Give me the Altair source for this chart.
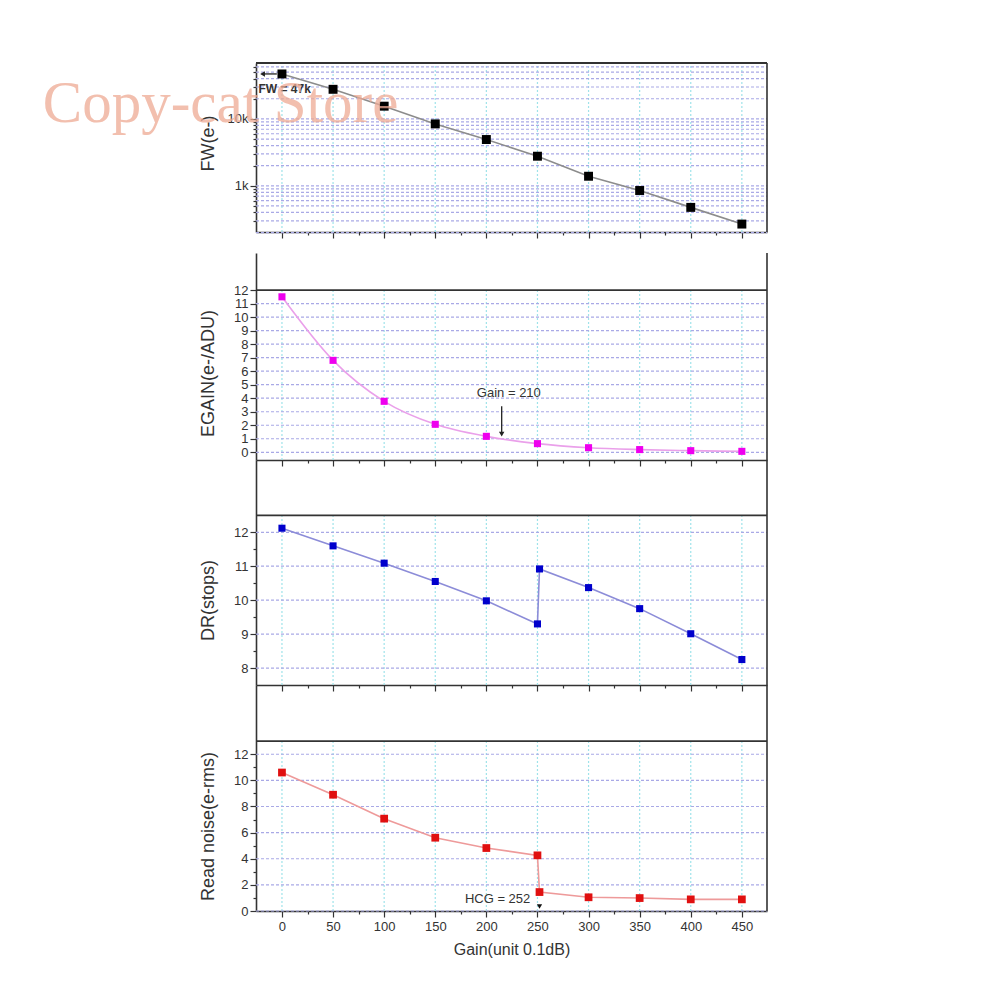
import altair as alt
import pandas as pd

# ---------------- data ----------------
gain = [0, 50, 100, 150, 200, 250, 300, 350, 400, 450]
fw = [47000, 27700, 15500, 8420, 4920, 2770, 1390, 851, 476, 268]
egain = [11.5, 6.8, 3.77, 2.07, 1.18, 0.64, 0.34, 0.20, 0.12, 0.07]
gain_hcg = [0, 50, 100, 150, 200, 250, 252, 300, 350, 400, 450]
dr = [12.12, 11.6, 11.09, 10.55, 9.98, 9.30, 10.92, 10.37, 9.75, 9.01, 8.25]
rn = [10.6, 8.9, 7.07, 5.61, 4.82, 4.26, 1.45, 1.05, 0.99, 0.89, 0.89]

x_major = [0, 50, 100, 150, 200, 250, 300, 350, 400, 450]
x_ticks = [0, 25, 50, 75, 100, 125, 150, 175, 200, 225, 250, 275, 300, 325,
           350, 375, 400, 425, 450]
fw_ticks = [200, 300, 400, 500, 600, 700, 800, 900,
            1000, 2000, 3000, 4000, 5000, 6000, 7000, 8000, 9000,
            10000, 20000, 30000, 40000, 50000, 60000]
eg_ticks = [0, 1, 2, 3, 4, 5, 6, 7, 8, 9, 10, 11, 12]
eg_grid = [0, 1, 2, 3, 4, 5, 6, 7, 8, 9, 10, 11]
dr_ticks = [8, 8.5, 9, 9.5, 10, 10.5, 11, 11.5, 12]
dr_grid = [8, 9, 10, 11, 12]
rn_ticks = [0, 1, 2, 3, 4, 5, 6, 7, 8, 9, 10, 11, 12]
rn_grid = [0, 2, 4, 6, 8, 10, 12]

XMIN, XMAX = -25.4, 474.6
W = 511
FONT = "Liberation Sans"

GRID_H = "#a9a9e6"
GRID_V = "#9fe3ea"


def x_axis(labels):
    return alt.Axis(
        values=x_ticks,
        labels=labels,
        labelExpr="datum.value % 50 === 0 ? datum.label : ''",
        tickSize={"condition": {"test": "datum.value % 50 === 0", "value": 6}, "value": 3},
        title="Gain(unit 0.1dB)" if labels else None,
        grid=False,
        domainColor="#333333", domainWidth=1.6, tickColor="#333333", tickWidth=1.2,
        labelFont=FONT, labelFontSize=13, labelColor="#333333", labelPadding=3,
        titleFont=FONT, titleFontSize=16, titleFontWeight="normal",
        titleColor="#333333", titlePadding=8,
    )


def y_axis(title, ticks, title_y, major_test, label_expr=None):
    kw = dict(
        values=ticks,
        title=title,
        grid=False,
        labelOverlap=False,
        tickSize={"condition": {"test": major_test, "value": 6}, "value": 3},
        domainColor="#333333", domainWidth=1.6, tickColor="#333333", tickWidth=1.2,
        labelFont=FONT, labelFontSize=13, labelColor="#333333", labelPadding=2,
        titleFont=FONT, titleFontSize=18, titleFontWeight="normal",
        titleColor="#333333", titleAngle=-90, titleX=-48, titleY=title_y,
        titleBaseline="middle", titleAlign="center",
    )
    if label_expr:
        kw["labelExpr"] = label_expr
    return alt.Axis(**kw)


def panel(df, ycol, height, ydom, ytype, yax, vgrid_lo, vgrid_hi, hgrid,
          top_line, line_color, pt_color, pt_size, labels, interp="linear",
          extras=None):
    xs = alt.Scale(domain=[XMIN, XMAX], nice=False, zero=False)
    ys = alt.Scale(domain=ydom, nice=False, zero=False, type=ytype)
    xax = x_axis(labels)

    def X(f):
        return alt.X(f, type="quantitative", scale=xs, axis=xax)

    def Y(f):
        return alt.Y(f, type="quantitative", scale=ys, axis=yax)

    vg = pd.DataFrame({"x": x_major, "y0": [vgrid_lo] * len(x_major),
                       "y1": [vgrid_hi] * len(x_major)})
    hg = pd.DataFrame({"y": hgrid, "x0": [XMIN] * len(hgrid), "x1": [XMAX] * len(hgrid)})

    layers = [
        alt.Chart(vg).mark_rule(color=GRID_V, strokeDash=[2, 2], strokeWidth=1.2)
        .encode(x=X("x"), y=Y("y0"), y2="y1"),
        alt.Chart(hg).mark_rule(color=GRID_H, strokeDash=[3, 2], strokeWidth=1.2)
        .encode(x=X("x0"), x2="x1", y=Y("y")),
    ]
    # frame: right edge and the top line
    right = pd.DataFrame({"x": [XMAX], "y0": [ydom[0]], "y1": [ydom[1]]})
    layers.append(alt.Chart(right).mark_rule(color="#333333", strokeWidth=1.6)
                  .encode(x=X("x"), y=Y("y0"), y2="y1"))
    top = pd.DataFrame({"y": [top_line], "x0": [XMIN], "x1": [XMAX]})
    layers.append(alt.Chart(top).mark_rule(color="#333333", strokeWidth=1.8)
                  .encode(x=X("x0"), x2="x1", y=Y("y")))

    base = alt.Chart(df)
    layers.append(base.mark_line(color=line_color, strokeWidth=1.6, interpolate=interp)
                  .encode(x=X("gain"), y=Y(ycol)))
    layers.append(base.mark_point(shape="square", filled=True, opacity=1,
                                  color=pt_color, size=pt_size)
                  .encode(x=X("gain"), y=Y(ycol)))
    if extras:
        for e in extras:
            layers.append(e(X, Y))
    return alt.layer(*layers).properties(width=W, height=height)


# ---------------- annotations ----------------
def fw_extras(X, Y):
    arrow = pd.DataFrame({"x0": [-5], "x1": [-18], "y": [47000]})
    head = pd.DataFrame({"x": [-19], "y": [47000]})
    label = pd.DataFrame({"x": [-23], "y": [27700], "t": ["FW = 47k"]})
    wm = pd.DataFrame({"x": [-234], "y": [16500], "t": ["Copy-cat Store"]})
    return alt.layer(
        alt.Chart(arrow).mark_rule(color="#222222", strokeWidth=1.3)
        .encode(x=X("x0"), x2="x1", y=Y("y")),
        alt.Chart(head).mark_point(shape="triangle-left", filled=True, opacity=1,
                                   color="#222222", size=30)
        .encode(x=X("x"), y=Y("y")),
        alt.Chart(label).mark_text(align="left", baseline="middle", font=FONT,
                                   fontSize=12, fontWeight="bold", color="#333333")
        .encode(x=X("x"), y=Y("y"), text="t:N"),
        alt.Chart(wm).mark_text(align="left", baseline="middle", font="Liberation Serif",
                                fontSize=59, color="#eeaa94", opacity=0.75)
        .encode(x=X("x"), y=Y("y"), text="t:N"),
    )


def eg_extras(X, Y):
    arrow = pd.DataFrame({"x": [215], "y0": [3.4], "y1": [1.5]})
    head = pd.DataFrame({"x": [215], "y": [1.35]})
    label = pd.DataFrame({"x": [222], "y": [4.4], "t": ["Gain = 210"]})
    return alt.layer(
        alt.Chart(arrow).mark_rule(color="#222222", strokeWidth=1.3)
        .encode(x=X("x"), y=Y("y0"), y2="y1"),
        alt.Chart(head).mark_point(shape="triangle-down", filled=True, opacity=1,
                                   color="#222222", size=30)
        .encode(x=X("x"), y=Y("y")),
        alt.Chart(label).mark_text(align="center", baseline="middle", font=FONT,
                                   fontSize=13, color="#333333")
        .encode(x=X("x"), y=Y("y"), text="t:N"),
    )


def rn_extras(X, Y):
    head = pd.DataFrame({"x": [252], "y": [0.35]})
    label = pd.DataFrame({"x": [243], "y": [0.92], "t": ["HCG = 252"]})
    return alt.layer(
        alt.Chart(head).mark_point(shape="triangle-down", filled=True, opacity=1,
                                   color="#111111", size=28)
        .encode(x=X("x"), y=Y("y")),
        alt.Chart(label).mark_text(align="right", baseline="middle", font=FONT,
                                   fontSize=13, color="#333333")
        .encode(x=X("x"), y=Y("y"), text="t:N"),
    )


# ---------------- panels ----------------
df_fw = pd.DataFrame({"gain": gain, "fw": fw})
df_eg = pd.DataFrame({"gain": gain, "egain": egain})
df_dr = pd.DataFrame({"gain": gain_hcg, "dr": dr})
df_rn = pd.DataFrame({"gain": gain_hcg, "rn": rn})

FW_DOM = [204, 68500]
p1 = panel(
    df_fw, "fw", 169, FW_DOM, "log",
    y_axis("FW(e-)", fw_ticks, 80, "datum.value === 1000 || datum.value === 10000",
           "datum.value === 1000 ? '1k' : datum.value === 10000 ? '10k' : ''"),
    FW_DOM[0], FW_DOM[1], fw_ticks, FW_DOM[1],
    "#8c8c8c", "#000000", 80, False, extras=[fw_extras])

EG_DOM = [-0.57, 14.74]
p2 = panel(
    df_eg, "egain", 207, EG_DOM, "linear",
    y_axis("EGAIN(e-/ADU)", eg_ticks, 120, "true"),
    EG_DOM[0], 12, eg_grid, 12,
    "#eaa0ea", "#ee00ee", 50, False, interp="monotone", extras=[eg_extras])

DR_DOM = [7.5, 14.13]
p3 = panel(
    df_dr, "dr", 225, DR_DOM, "linear",
    y_axis("DR(stops)", dr_ticks, 140, "datum.value % 1 === 0",
           "datum.value % 1 === 0 ? datum.label : ''"),
    DR_DOM[0], 12.5, dr_grid, 12.5,
    "#8c8cd8", "#0000cc", 50, False)

RN_DOM = [0, 17.3]
p4 = panel(
    df_rn, "rn", 226, RN_DOM, "linear",
    y_axis("Read noise(e-rms)", rn_ticks, 141, "datum.value % 2 === 0",
           "datum.value % 2 === 0 ? datum.label : ''"),
    RN_DOM[0], 13, rn_grid, 13,
    "#ee9a9a", "#e01010", 60, True, extras=[rn_extras])

lower = alt.vconcat(p2, p3, p4, spacing=0, bounds="flush")
chart = (
    alt.vconcat(p1, lower, spacing=21, bounds="flush")
    .properties(padding={"left": 42, "top": 60, "right": 5, "bottom": 5},
                background="white")
    .configure_view(stroke=None)
)

chart.save("out.html", embed_options={"renderer": "svg", "actions": False})
